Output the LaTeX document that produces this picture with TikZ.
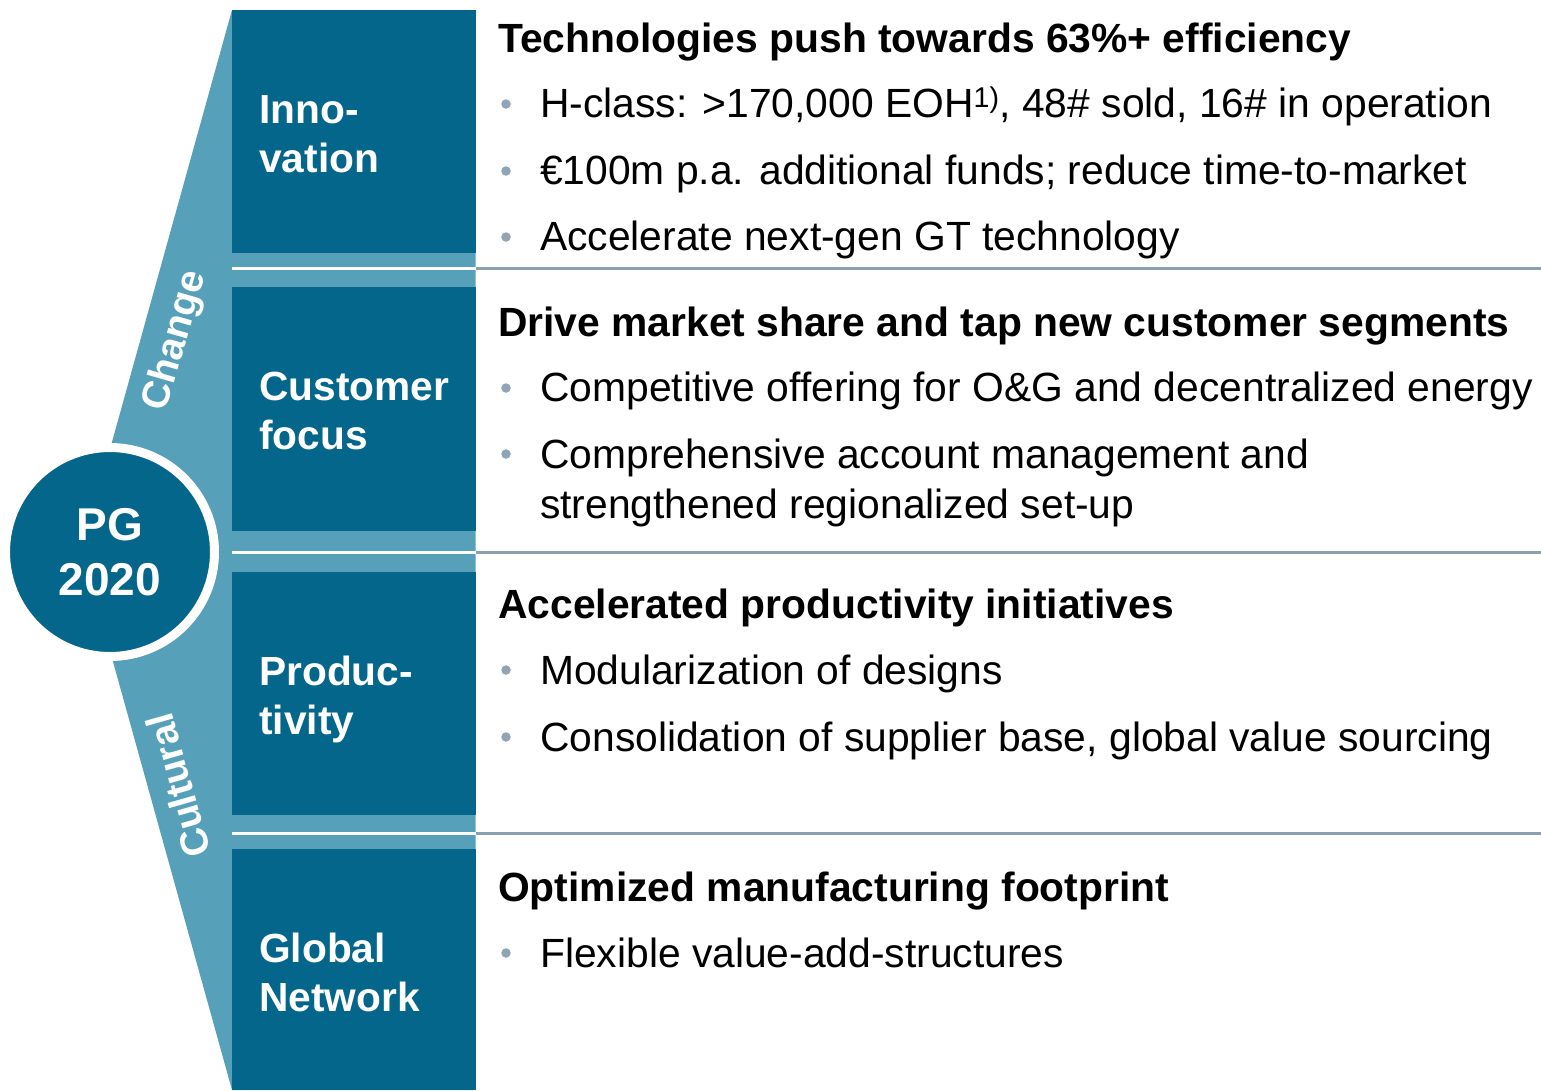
\documentclass[tikz,border=0pt]{standalone}
\usepackage{fontspec}
\setmainfont{Liberation Sans}
\definecolor{pgdark}{HTML}{03668A}
\definecolor{pglight}{HTML}{56A0BA}
\definecolor{rulegray}{HTML}{8A9FAF}
\definecolor{dotgray}{HTML}{90A4B4}
\begin{document}
\begin{tikzpicture}[x=1pt,y=-1pt,
  pillarbox/.style={fill=pgdark, draw=none},
  pillartext/.style={anchor=base west, inner sep=0, text=white,
    font=\fontsize{40.7}{49}\selectfont\bfseries},
  sidetext/.style={inner sep=0, text=white,
    font=\fontsize{39}{44}\selectfont\bfseries},
  headline/.style={anchor=base west, inner sep=0, text=black,
    font=\fontsize{40.8}{49}\selectfont\bfseries},
  itemtext/.style={anchor=base west, inner sep=0, text=black,
    font=\fontsize{40.8}{50}\selectfont},
  itemdot/.style={circle, fill=dotgray, draw=none, minimum size=9.5pt, inner sep=0},
  whiterule/.style={draw=white, line width=3pt},
  grayrule/.style={draw=rulegray, line width=3pt}]

\useasboundingbox (0,0) rectangle (1541,1090);

% light blue chevron band behind the pillars
\fill[pglight] (232,10) -- (82,550) -- (232,1090) -- (475.5,1090) -- (475.5,10) -- cycle;

% pillar boxes
\path[pillarbox] (232,10)  rectangle (476,253);
\path[pillarbox] (232,287) rectangle (476,530.5);
\path[pillarbox] (232,572) rectangle (476,815);
\path[pillarbox] (232,849) rectangle (476,1090);

% separators: white across the band, gray across the text area
\draw[whiterule] (232,268.5) -- (475.5,268.5);
\draw[whiterule] (232,552) -- (475.5,552);
\draw[whiterule] (232,833) -- (475.5,833);
\draw[grayrule] (475.5,268.5) -- (1541,268.5);
\draw[grayrule] (475.5,552) -- (1541,552);
\draw[grayrule] (475.5,833) -- (1541,833);

% pillar names
\node[pillartext] (innA) at (259,123) {Inno-};
\node[pillartext] (innB) at (259,172) {vation};
\node[pillartext] (cusA) at (259,400) {Customer};
\node[pillartext] (cusB) at (259,449) {focus};
\node[pillartext] (proA) at (259,685) {Produc-};
\node[pillartext] (proB) at (259,734) {tivity};
\node[pillartext] (gloA) at (259,962) {Global};
\node[pillartext] (gloB) at (259,1011) {Network};

% words along the chevron edges
\node[sidetext, rotate=74] (change) at (176,341) {Change};
\node[sidetext, rotate=106] (cultural) at (178,786) {Cultural};

% centre badge
\node[circle, fill=pgdark, draw=white, line width=9pt, minimum size=209pt,
      inner sep=0, text=white, align=center,
      font=\fontsize{46}{55}\selectfont\bfseries] (pg) at (110,552) {PG\\2020};

% section 1
\node[headline] (h1) at (498,52) {Technologies push towards 63\%+ efficiency};
\node[itemdot] (d11) at (506,104) {};
\node[itemtext] (t11) at (540,117) {H-class: >170,000 EOH\textsuperscript{1)}, 48\# sold, 16\# in operation};
\node[itemdot] (d12) at (506,171) {};
\node[itemtext] (t12) at (540,184) {€100m p.a. additional funds; reduce time-to-market};
\node[itemdot] (d13) at (506,237) {};
\node[itemtext] (t13) at (540,250) {Accelerate next-gen GT technology};

% section 2
\node[headline] (h2) at (498,336) {Drive market share and tap new customer segments};
\node[itemdot] (d21) at (506,388) {};
\node[itemtext] (t21) at (540,401) {Competitive offering for O\&G and decentralized energy};
\node[itemdot] (d22) at (506,454) {};
\node[itemtext] (t22) at (540,468) {Comprehensive account management and};
\node[itemtext] (t22b) at (540,518) {strengthened regionalized set-up};

% section 3
\node[headline] (h3) at (498,618) {Accelerated productivity initiatives};
\node[itemdot] (d31) at (506,670) {};
\node[itemtext] (t31) at (540,684) {Modularization of designs};
\node[itemdot] (d32) at (506,737) {};
\node[itemtext] (t32) at (540,751) {Consolidation of supplier base, global value sourcing};

% section 4
\node[headline] (h4) at (498,901) {Optimized manufacturing footprint};
\node[itemdot] (d41) at (506,953) {};
\node[itemtext] (t41) at (540,967) {Flexible value-add-structures};

\end{tikzpicture}
\end{document}
